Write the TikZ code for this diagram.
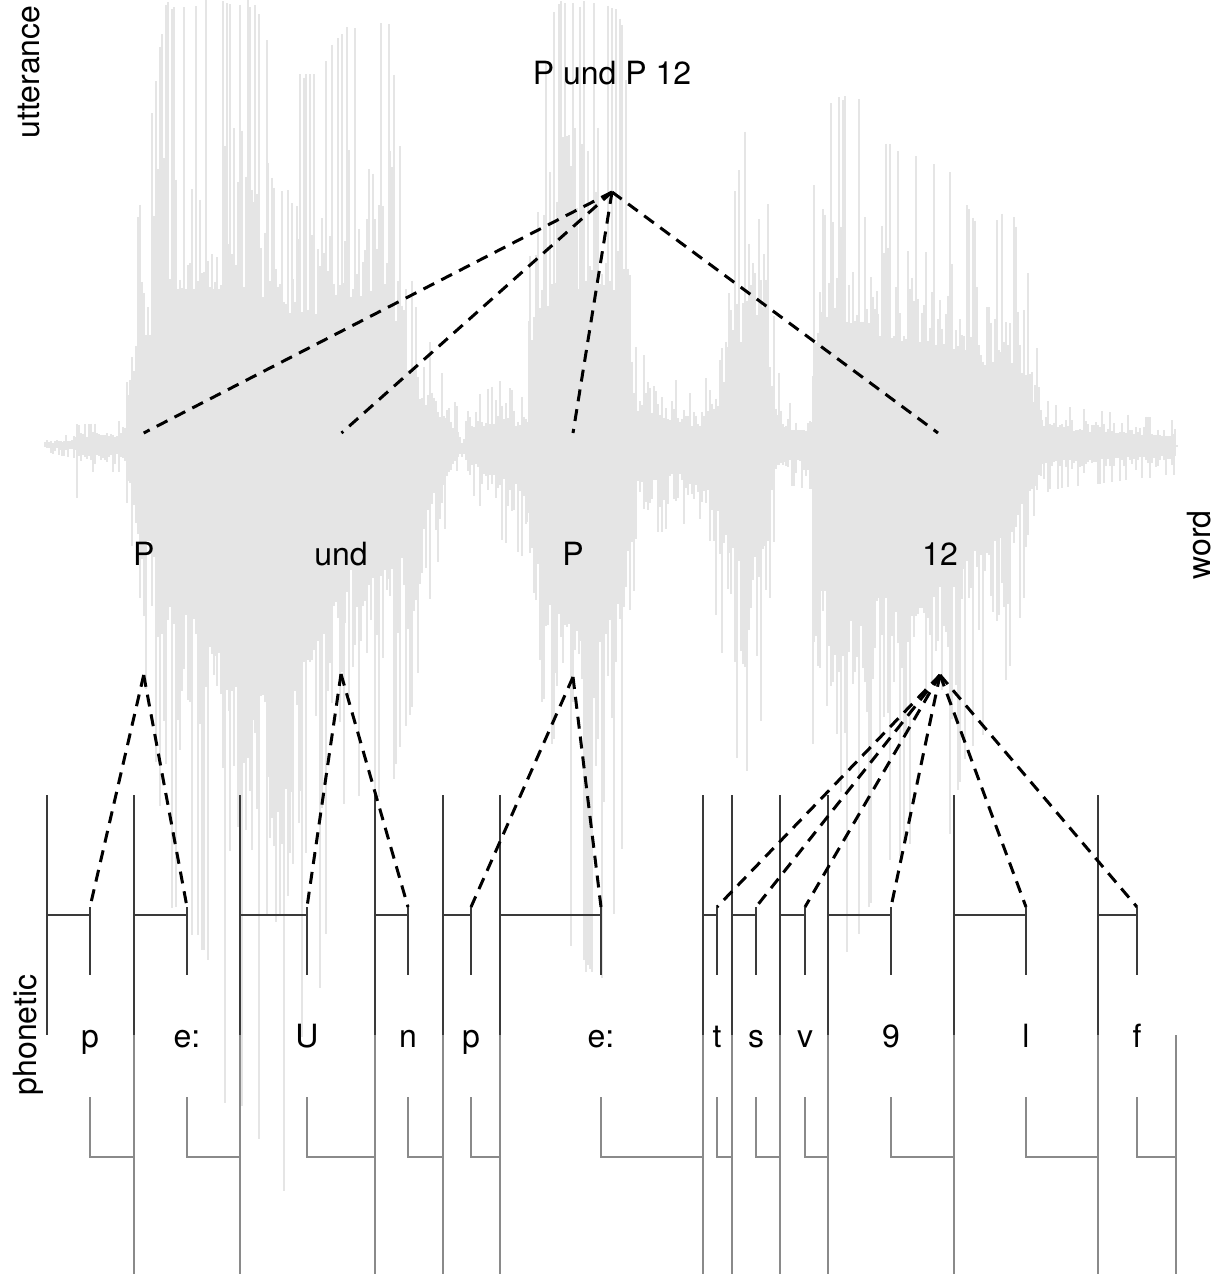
\documentclass[tikz,border=0pt]{standalone}
\usepackage{fontspec}
\setmainfont{TeX Gyre Heros}
\definecolor{wavegray}{HTML}{E5E5E5}
\definecolor{darkln}{HTML}{3A3A3A}
\definecolor{midln}{HTML}{8A8A8A}
\begin{document}
\begin{tikzpicture}[x=1pt,y=-1pt,
  wave/.style={draw=wavegray, line width=1.8pt},
  darkbar/.style={draw=darkln, line width=2.6pt},
  greybar/.style={draw=midln, line width=2.6pt},
  dashln/.style={draw=black, line width=3pt, dash pattern=on 12pt off 8pt},
  lab/.style={font=\fontsize{32}{38}\selectfont, inner sep=0pt}]
\useasboundingbox (0,0) rectangle (1224,1274);
% ---------------- waveform (background)
\begin{scope}
\clip (0,0) rectangle (1224,1274);
\pgfmathsetseed{4711}
\foreach \wxb/\wtb/\wbb [remember=\wxb as \wxa (initially 45),
                         remember=\wtb as \wta (initially 441),
                         remember=\wbb as \wba (initially 452)] in
 {62/436/456, 75/432/458, 77/398/498, 79/425/472, 125/420/472, 128/304/520,
  136/229/650, 148/149/700, 158/57/780, 166/0/900, 180/0/923, 200/0/947,
  215/0/990, 230/0/1160, 240/0/1100, 255/0/1150, 268/40/1120, 282/71/1210,
  293/71/1150, 300/71/1050, 320/71/1000, 332/40/880, 345/22/800, 390/22/800,
  398/118/760, 414/302/700, 430/340/600, 445/380/530, 458/408/480, 462/441/462,
  470/400/490, 500/380/540, 527/400/560, 530/163/640, 540/100/820, 555/0/920,
  580/0/965, 600/0/990, 612/0/935, 624/20/840, 630/200/700, 636/347/540,
  700/400/520, 720/327/640, 729/216/720, 737/180/760, 753/82/780, 764/98/700,
  770/253/600, 777/360/500, 784/400/485, 811/408/490, 814/180/880, 823/100/850,
  845/95/956, 865/100/927, 878/139/883, 910/150/846, 948/163/850, 965/200/760,
  983/229/740, 1000/212/710, 1014/215/650, 1026/257/590, 1035/330/560,
  1042/390/500, 1050/404/490, 1175/420/475, 1177/445/450}
{
  \pgfmathtruncatemacro{\wxn}{\wxa+2}
  \foreach \x in {\wxa,\wxn,...,\wxb} {
    \pgfmathsetmacro{\wf}{(\x-\wxa)/(\wxb-\wxa)}
    \pgfmathsetmacro{\wra}{rnd}
    \pgfmathsetmacro{\wrb}{rnd}
    \pgfmathsetmacro{\wfa}{\wra>0.82 ? 0.88+0.12*\wra : 0.35+0.55*\wra*\wra}
    \pgfmathsetmacro{\wfb}{\wrb>0.82 ? 0.88+0.12*\wrb : 0.35+0.55*\wrb*\wrb}
    \pgfmathsetmacro{\wyt}{max(0,445-(445-(\wta+(\wtb-\wta)*\wf))*\wfa)}
    \pgfmathsetmacro{\wyb}{445+((\wba+(\wbb-\wba)*\wf)-445)*\wfb}
    \draw[wave] (\x,\wyt) -- (\x,\wyb);
  }
}
\end{scope}
% ---------------- tier names
\node[lab, rotate=90, anchor=base] (tutt) at (39,72) {utterance};
\node[lab, rotate=90, anchor=base] (tword) at (1210,545) {word};
\node[lab, rotate=90, anchor=base] (tphon) at (36,1035) {phonetic};
% ---------------- phonetic tier
\foreach \ps/\pe/\plx/\ptxt [count=\i] in
 {47/134/90/p, 134/240/187/e:, 240/375/307/U, 375/443/408/n, 443/500/471/p,
  500/703/601/e:, 703/732/717/t, 732/780/756/s, 780/828/805/v, 828/954/891/9,
  954/1098/1026/l, 1098/1176/1137/f}
{
  \draw[darkbar] (\ps,795) -- (\ps,1035);
  \draw[darkbar] (\ps,915) -- (\plx,915);
  \draw[darkbar] (\plx,907) -- (\plx,975);
  \draw[greybar] (\pe,1035) -- (\pe,1274);
  \draw[greybar] (\plx,1097) -- (\plx,1157) -- (\pe,1157);
  \node[lab, anchor=base] (ph\i) at (\plx,1047) {\ptxt};
  \coordinate (pa\i) at (\plx,907);
}
% ---------------- utterance tier
\node[lab, anchor=base] (utt) at (612,84) {P und P 12};
\coordinate (uroot) at (612,192);
% ---------------- word tier
\node[lab, anchor=base] (w1) at (143.7,565) {P};
\node[lab, anchor=base] (w2) at (341,565) {und};
\node[lab, anchor=base] (w3) at (573,565) {P};
\node[lab, anchor=base] (w4) at (940,565) {12};
\coordinate (w1t) at (143.7,433);
\coordinate (w2t) at (341.5,433);
\coordinate (w3t) at (573,433);
\coordinate (w4t) at (938,433);
\coordinate (w1b) at (143.7,675);
\coordinate (w2b) at (341,674);
\coordinate (w3b) at (573,677);
\coordinate (w4b) at (940,675);
% ---------------- dashed links
\foreach \k in {1,2,3,4} { \draw[dashln] (uroot) -- (w\k t); }
\draw[dashln] (w1b) -- (pa1);
\draw[dashln] (w1b) -- (pa2);
\draw[dashln] (w2b) -- (pa3);
\draw[dashln] (w2b) -- (pa4);
\draw[dashln] (w3b) -- (pa5);
\draw[dashln] (w3b) -- (pa6);
\foreach \k in {7,...,12} { \draw[dashln] (w4b) -- (pa\k); }
\end{tikzpicture}
\end{document}
